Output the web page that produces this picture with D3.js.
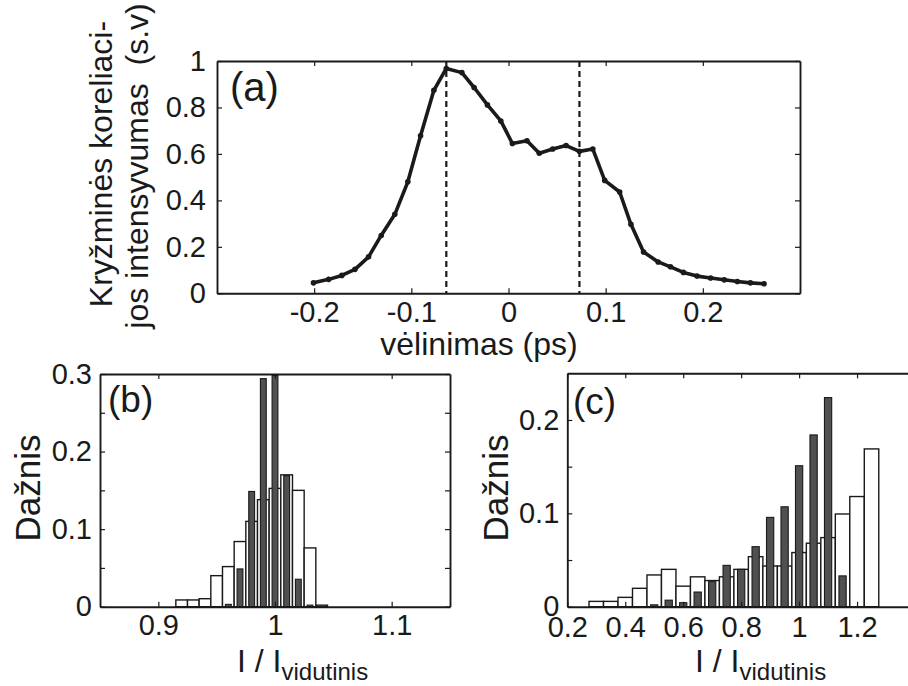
<!DOCTYPE html>
<html>
<head>
<meta charset="utf-8">
<script src="https://cdn.jsdelivr.net/npm/d3@7"></script>
<style>
  body { margin: 0; background: #fff; }
  svg { display: block; }
  text { font-family: "Liberation Sans", Arial, Helvetica, sans-serif; fill: #1a1a1a; }
</style>
</head>
<body>
<div id="chart"></div>
<script>
// Panel (a): cross-correlation trace
const delayPs = [-0.2007, -0.185, -0.1715, -0.158, -0.144, -0.131, -0.117, -0.1036, -0.0905, -0.0768,
                 -0.064, -0.048, -0.0354, -0.0217, -0.0079, 0.004, 0.019, 0.0317, 0.0455, 0.0593,
                 0.073, 0.0868, 0.099, 0.1144, 0.126, 0.139, 0.154, 0.1667, 0.180, 0.194,
                 0.208, 0.222, 0.2355, 0.249, 0.263];
const intensity = [0.045, 0.060, 0.077, 0.103, 0.157, 0.249, 0.340, 0.480, 0.678, 0.874,
                   0.968, 0.950, 0.886, 0.811, 0.742, 0.645, 0.657, 0.603, 0.621, 0.636,
                   0.611, 0.621, 0.486, 0.436, 0.297, 0.178, 0.135, 0.114, 0.090, 0.074,
                   0.066, 0.058, 0.051, 0.045, 0.041];
const dashedAt = [-0.064, 0.073];
const aTicksX = [-0.2, -0.1, 0, 0.1, 0.2];
const aTicksY = [0, 0.2, 0.4, 0.6, 0.8, 1];

// Panel (b): histogram, bins of 0.01
const bWhiteBins = [0.92, 0.93, 0.94, 0.95, 0.96, 0.97, 0.98, 0.99, 1.00, 1.01, 1.02, 1.03, 1.04];
const bWhiteVals = [0.0087, 0.0087, 0.0103, 0.040, 0.0517, 0.084, 0.110, 0.138, 0.1525, 0.170, 0.150, 0.0758, 0.002];
const bDarkBins  = [0.96, 0.97, 0.98, 0.99, 1.00, 1.01, 1.02, 1.03];
const bDarkVals  = [0.003, 0.0487, 0.1486, 0.294, 0.298, 0.169, 0.0354, 0.002];
const bTicksX = [0.9, 1, 1.1];
const bTicksY = [0, 0.05, 0.1, 0.15, 0.2, 0.25, 0.3];

// Panel (c): histogram, bins of 0.05
const cWhiteBins = [0.30, 0.35, 0.40, 0.45, 0.50, 0.55, 0.60, 0.65, 0.70, 0.75,
                    0.80, 0.85, 0.90, 0.95, 1.00, 1.05, 1.10, 1.15, 1.20, 1.25];
const cWhiteVals = [0.0057, 0.0057, 0.010, 0.0197, 0.034, 0.040, 0.022, 0.032, 0.028, 0.032,
                    0.040, 0.0536, 0.0436, 0.0436, 0.058, 0.068, 0.074, 0.0993, 0.118, 0.169];
const cDarkBins  = [0.50, 0.55, 0.60, 0.65, 0.70, 0.75, 0.80, 0.85, 0.90, 0.95, 1.00, 1.05, 1.10, 1.15];
const cDarkVals  = [0.002, 0.007, 0.0043, 0.0157, 0.0268, 0.0443, 0.040, 0.0643, 0.0957, 0.107, 0.151, 0.184, 0.224, 0.033];
const cTicksX = [0.2, 0.4, 0.6, 0.8, 1, 1.2];
const cTicksY = [0, 0.05, 0.1, 0.15, 0.2];

const W = 908, H = 686;
const INK = "#1a1a1a";
const DARK_FILL = "#505050";

const svg = d3.select("#chart").append("svg")
  .attr("width", W).attr("height", H);

// Scales
const xA = d3.scaleLinear().domain([-0.3, 0.3]).range([217, 800]);
const yA = d3.scaleLinear().domain([0, 1]).range([293.3, 61]);
const xB = d3.scaleLinear().domain([0.85, 1.15]).range([100, 450]);
const yB = d3.scaleLinear().domain([0, 0.3]).range([606.7, 374]);
const xC = d3.scaleLinear().domain([0.2, 1.4]).range([567.3, 915]);
const yC = d3.scaleLinear().domain([0, 0.25]).range([606.7, 373.3]);

const fmt = v => String(+v.toFixed(2));

// Draw a boxed frame with inward ticks on all four sides
function drawFrame(x, y, ticksX, ticksY, opt) {
  let g = svg.append("g");
  let [x0, x1] = x.range();
  let [y0, y1] = y.range();

  let bottom = d3.axisBottom(x).tickValues(ticksX).tickSizeInner(-5).tickSizeOuter(0)
    .tickPadding(opt.padX).tickFormat(opt.fmtX || fmt);
  let top = d3.axisTop(x).tickValues(ticksX).tickSizeInner(-5).tickSizeOuter(0).tickFormat("");
  let left = d3.axisLeft(y).tickValues(ticksY).tickSizeInner(-5).tickSizeOuter(0)
    .tickPadding(opt.padY).tickFormat(opt.fmtY || fmt);
  let right = d3.axisRight(y).tickValues(ticksY).tickSizeInner(-5).tickSizeOuter(0).tickFormat("");

  g.append("g").attr("transform", `translate(0,${y0})`).call(bottom);
  g.append("g").attr("transform", `translate(0,${y1})`).call(top);
  g.append("g").attr("transform", `translate(${x0},0)`).call(left);
  g.append("g").attr("transform", `translate(${x1},0)`).call(right);

  g.selectAll(".domain").attr("stroke", INK).attr("stroke-width", 1.9);
  g.selectAll(".tick line").attr("stroke", INK).attr("stroke-width", 1.2);
  g.selectAll(".tick text")
    .attr("fill", INK)
    .style("font-size", opt.fontSize + "px")
    .style("font-family", "'Liberation Sans', Arial, sans-serif");
  return g;
}

// ---------- Panel (a) ----------
svg.append("g").selectAll("line.dash")
  .data(dashedAt)
  .enter().append("line")
  .attr("x1", d => xA(d)).attr("x2", d => xA(d))
  .attr("y1", yA(1)).attr("y2", yA(0))
  .attr("stroke", INK).attr("stroke-width", 2.2)
  .attr("stroke-dasharray", "6,4");

const traceData = delayPs.map((d, i) => [d, intensity[i]]);
svg.append("path")
  .datum(traceData)
  .attr("fill", "none")
  .attr("stroke", INK)
  .attr("stroke-width", 3.6)
  .attr("stroke-linejoin", "round")
  .attr("d", d3.line().x(d => xA(d[0])).y(d => yA(d[1])));

svg.append("g").selectAll("circle")
  .data(traceData)
  .enter().append("circle")
  .attr("cx", d => xA(d[0])).attr("cy", d => yA(d[1]))
  .attr("r", 2.8).attr("fill", INK);

drawFrame(xA, yA, aTicksX, aTicksY, { padX: 8, padY: 11, fontSize: 29 });

svg.append("text").attr("x", 230).attr("y", 101)
  .style("font-size", "40px").text("(a)");

svg.append("text").attr("x", 479).attr("y", 355)
  .attr("text-anchor", "middle").style("font-size", "32px")
  .text("vėlinimas (ps)");

svg.append("text")
  .attr("transform", "translate(112,164) rotate(-90)")
  .attr("text-anchor", "middle").style("font-size", "32px")
  .text("Kryžminės koreliaci-");
svg.append("text")
  .attr("transform", "translate(148,166) rotate(-90)")
  .attr("text-anchor", "middle").style("font-size", "32px")
  .style("white-space", "pre")
  .text("jos intensyvumas  (s.v)");

// ---------- Histogram helper ----------
function drawBars(x, y, bins, vals, binW, frac, fill, sw) {
  svg.append("g").selectAll("rect")
    .data(bins.map((b, i) => ({ b, v: vals[i] })))
    .enter().append("rect")
    .attr("x", d => x(d.b - binW * frac / 2))
    .attr("width", d => x(d.b + binW * frac / 2) - x(d.b - binW * frac / 2))
    .attr("y", d => y(d.v))
    .attr("height", d => y(0) - y(d.v))
    .attr("fill", fill)
    .attr("stroke", INK)
    .attr("stroke-width", sw);
}

function xLabel(xStart, baseline) {
  let t = svg.append("text").attr("x", xStart).attr("y", baseline)
    .style("font-size", "32px").style("white-space", "pre");
  t.append("tspan").text("I / I");
  t.append("tspan").attr("dy", 8).style("font-size", "24px").text("vidutinis");
}

const labelEvery = step => v => {
  let r = v / step;
  return Math.abs(r - Math.round(r)) < 1e-6 ? fmt(v) : "";
};

// ---------- Panel (b) ----------
drawBars(xB, yB, bWhiteBins, bWhiteVals, 0.01, 1, "#fff", 1.4);
drawBars(xB, yB, bDarkBins, bDarkVals, 0.01, 0.5, DARK_FILL, 1.1);
drawFrame(xB, yB, bTicksX, bTicksY, { padX: 8, padY: 8, fontSize: 29, fmtY: labelEvery(0.1) });

svg.append("text").attr("x", 108).attr("y", 412)
  .style("font-size", "37px").text("(b)");
svg.append("text")
  .attr("transform", "translate(40,488) rotate(-90)")
  .attr("text-anchor", "middle").style("font-size", "35px")
  .text("Dažnis");
xLabel(237, 672);

// ---------- Panel (c) ----------
drawBars(xC, yC, cWhiteBins, cWhiteVals, 0.05, 1, "#fff", 1.4);
drawBars(xC, yC, cDarkBins, cDarkVals, 0.05, 0.5, DARK_FILL, 1.1);
drawFrame(xC, yC, cTicksX, cTicksY, { padX: 10, padY: 8, fontSize: 29, fmtY: labelEvery(0.1) });

svg.append("text").attr("x", 573).attr("y", 414)
  .style("font-size", "37px").text("(c)");
svg.append("text")
  .attr("transform", "translate(508,488) rotate(-90)")
  .attr("text-anchor", "middle").style("font-size", "35px")
  .text("Dažnis");
xLabel(695, 672);
</script>
</body>
</html>
